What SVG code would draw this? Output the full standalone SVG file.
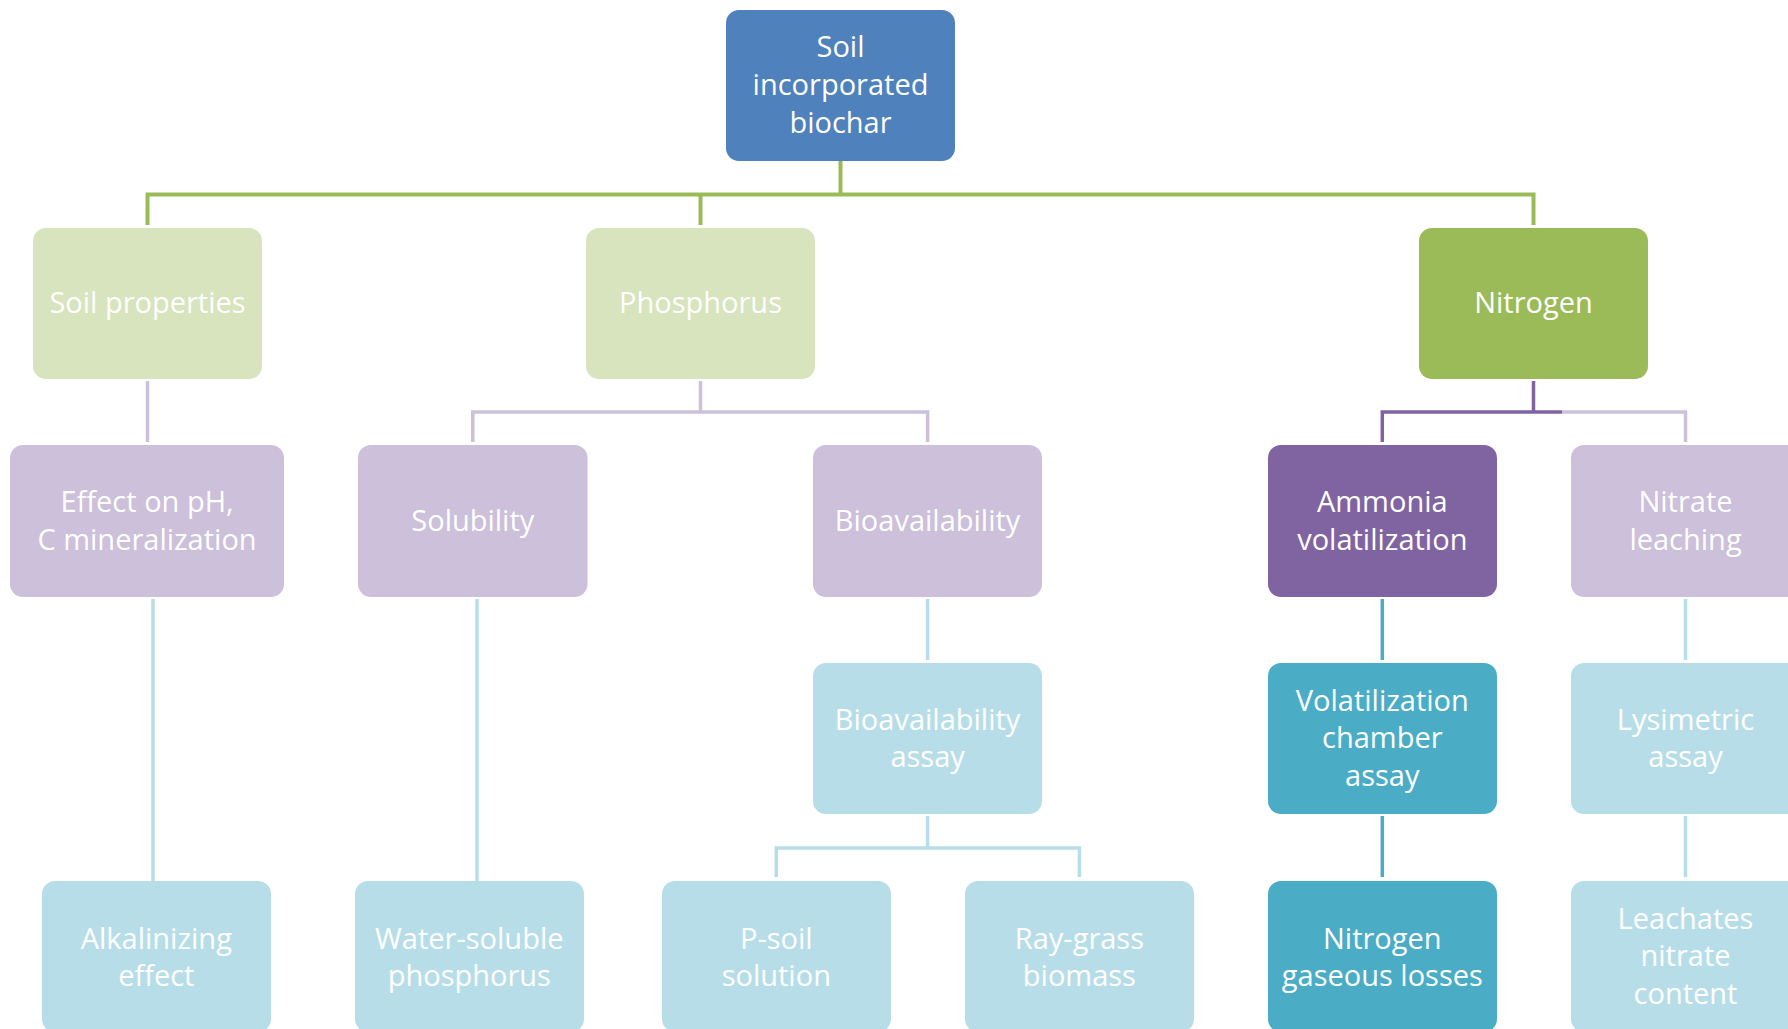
<svg xmlns="http://www.w3.org/2000/svg" width="1788" height="1029" viewBox="0 0 1788 1029">
<style>
  .box { stroke: none; }
  .t { font-family: "Open Sans", "Liberation Sans", sans-serif; font-size: 29px; fill: #ffffff; text-anchor: middle; }
  .c { fill: none; stroke-linecap: butt; stroke-linejoin: miter; }
  .cg { stroke: #9BBB59; stroke-width: 4; }
  .clp { stroke: #CCC0DA; stroke-width: 3.5; }
  .cdp { stroke: #8064A2; stroke-width: 3.5; }
  .clb { stroke: #B7DEE8; stroke-width: 3.5; }
  .cteal { stroke: #4BACC6; stroke-width: 3.5; }
</style>
<rect width="1788" height="1029" fill="#ffffff"/>
<g id="connectors">
  <path class="c cg" d="M840.5 161 V194.5 M147.5 225 V194.5 H1533.5 V225 M700.5 194.5 V225"/>
  <path class="c clp" d="M147.5 381 V442"/>
  <path class="c clp" d="M700.5 381 V412 M472.8 442 V412 H927.6 V442"/>
  <path class="c cdp" d="M1533.5 381 V412 M1382.3 442 V412 H1562"/>
  <path class="c clp" d="M1562 412 H1685.5 V442"/>
  <path class="c clb" d="M153 599 V882"/>
  <path class="c clb" d="M477 599 V882"/>
  <path class="c clb" d="M927.6 599 V660"/>
  <path class="c clb" d="M927.6 816 V848 M776.3 877 V848 H1079.4 V877"/>
  <path class="c cteal" d="M1382.3 599 V660 M1382.3 816 V877"/>
  <path class="c clb" d="M1685.5 599 V660 M1685.5 816 V877"/>
</g>
<g id="node-root">
  <rect class="box" x="726" y="10" width="229" height="151" rx="13" fill="#4F81BD"/>
  <text class="t" x="840.5" y="57">Soil</text>
  <text class="t" x="840.5" y="95">incorporated</text>
  <text class="t" x="840.5" y="133">biochar</text>
</g>
<g id="node-soil-properties">
  <rect class="box" x="33" y="228" width="229" height="151" rx="13" fill="#D7E4BD"/>
  <text class="t" x="147.5" y="313">Soil properties</text>
</g>
<g id="node-phosphorus">
  <rect class="box" x="586" y="228" width="229" height="151" rx="13" fill="#D7E4BD"/>
  <text class="t" x="700.5" y="313">Phosphorus</text>
</g>
<g id="node-nitrogen">
  <rect class="box" x="1419" y="228" width="229" height="151" rx="13" fill="#9BBB59"/>
  <text class="t" x="1533.5" y="313">Nitrogen</text>
</g>
<g id="node-effect">
  <rect class="box" x="10" y="445" width="274" height="152" rx="13" fill="#CCC0DA"/>
  <text class="t" x="147" y="512">Effect on pH,</text>
  <text class="t" x="147" y="549.5">C mineralization</text>
</g>
<g id="node-solubility">
  <rect class="box" x="358" y="445" width="229.5" height="152" rx="13" fill="#CCC0DA"/>
  <text class="t" x="472.8" y="530.7">Solubility</text>
</g>
<g id="node-bioavailability">
  <rect class="box" x="813" y="445" width="229" height="152" rx="13" fill="#CCC0DA"/>
  <text class="t" x="927.6" y="530.7">Bioavailability</text>
</g>
<g id="node-ammonia">
  <rect class="box" x="1268" y="445" width="229" height="152" rx="13" fill="#8064A2"/>
  <text class="t" x="1382.3" y="512">Ammonia</text>
  <text class="t" x="1382.3" y="549.5">volatilization</text>
</g>
<g id="node-nitrate">
  <rect class="box" x="1571" y="445" width="229" height="152" rx="13" fill="#CCC0DA"/>
  <text class="t" x="1685.5" y="512">Nitrate</text>
  <text class="t" x="1685.5" y="549.5">leaching</text>
</g>
<g id="node-bioavailability-assay">
  <rect class="box" x="813" y="663" width="229" height="151" rx="13" fill="#B7DEE8"/>
  <text class="t" x="927.6" y="729.5">Bioavailability</text>
  <text class="t" x="927.6" y="767">assay</text>
</g>
<g id="node-volatilization">
  <rect class="box" x="1268" y="663" width="229" height="151" rx="13" fill="#4BACC6"/>
  <text class="t" x="1382.3" y="710.7">Volatilization</text>
  <text class="t" x="1382.3" y="748.3">chamber</text>
  <text class="t" x="1382.3" y="786">assay</text>
</g>
<g id="node-lysimetric">
  <rect class="box" x="1571" y="663" width="229" height="151" rx="13" fill="#B7DEE8"/>
  <text class="t" x="1685.5" y="729.5">Lysimetric</text>
  <text class="t" x="1685.5" y="767">assay</text>
</g>
<g id="node-alkalinizing">
  <rect class="box" x="42" y="881" width="229" height="151" rx="13" fill="#B7DEE8"/>
  <text class="t" x="156.3" y="948.5">Alkalinizing</text>
  <text class="t" x="156.3" y="986">effect</text>
</g>
<g id="node-water-soluble">
  <rect class="box" x="355" y="881" width="229" height="151" rx="13" fill="#B7DEE8"/>
  <text class="t" x="469.3" y="948.5">Water-soluble</text>
  <text class="t" x="469.3" y="986">phosphorus</text>
</g>
<g id="node-p-soil">
  <rect class="box" x="662" y="881" width="229" height="151" rx="13" fill="#B7DEE8"/>
  <text class="t" x="776.3" y="948.5">P-soil</text>
  <text class="t" x="776.3" y="986">solution</text>
</g>
<g id="node-ray-grass">
  <rect class="box" x="965" y="881" width="229" height="151" rx="13" fill="#B7DEE8"/>
  <text class="t" x="1079.4" y="948.5">Ray-grass</text>
  <text class="t" x="1079.4" y="986">biomass</text>
</g>
<g id="node-nitrogen-losses">
  <rect class="box" x="1268" y="881" width="229" height="151" rx="13" fill="#4BACC6"/>
  <text class="t" x="1382.3" y="948.5">Nitrogen</text>
  <text class="t" x="1382.3" y="986">gaseous losses</text>
</g>
<g id="node-leachates">
  <rect class="box" x="1571" y="881" width="229" height="151" rx="13" fill="#B7DEE8"/>
  <text class="t" x="1685.5" y="928.6">Leachates</text>
  <text class="t" x="1685.5" y="966.2">nitrate</text>
  <text class="t" x="1685.5" y="1003.8">content</text>
</g>
</svg>
